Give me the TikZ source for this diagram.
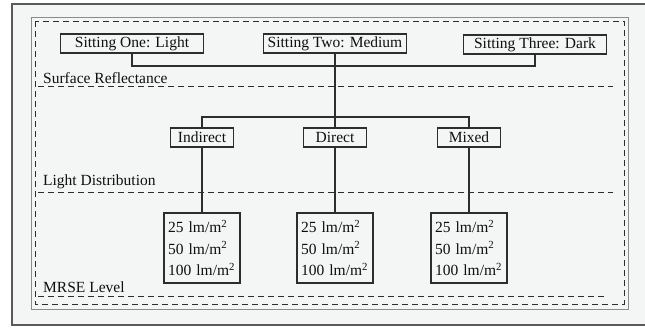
\documentclass[tikz,border=0pt]{standalone}
\usepackage{fontspec}
\setmainfont{Liberation Serif}
\definecolor{bg}{RGB}{244,245,245}
\definecolor{ln}{RGB}{45,45,45}
\definecolor{txt}{RGB}{15,15,15}
\definecolor{fr}{RGB}{90,90,90}
\begin{document}
\begin{tikzpicture}[x=1pt,y=-1pt,
  every node/.style={text=txt, font=\fontsize{15.5}{21.5}\selectfont},
  box/.style={draw=ln, line width=1.1pt, minimum height=19pt, inner sep=0pt},
  topbox/.style={box, minimum width=143pt},
  midbox/.style={box, minimum width=63pt},
  lvlbox/.style={box, minimum height=70pt, text width=68pt, inner xsep=4pt, align=left},
  conn/.style={draw=ln, line width=1.1pt},
  sep/.style={draw=ln, line width=1pt, dash pattern=on 6pt off 4pt},
  lbl/.style={anchor=base west, inner sep=0pt}]
\useasboundingbox (0,0) rectangle (645,327);
\fill[white] (0,0) rectangle (645,327);
\fill[bg] (12,4) rectangle (660,325);
\draw[fr, line width=1.2pt] (660,4) -- (12,4) -- (12,325) -- (660,325);
% inner frame
\draw[fr!70, line width=0.9pt] (31,17) rectangle (628,309);
\draw[sep] (35,21) rectangle (624,304);
% top level
\node[topbox] (s1) at (132,43.5) {Sitting One: Light};
\node[topbox] (s2) at (335,43.5) {Sitting Two: Medium};
\node[topbox] (s3) at (535,44.5) {Sitting Three: Dark};
% middle level
\node[midbox] (m1) at (202,137.5) {Indirect};
\node[midbox] (m2) at (335,137.5) {Direct};
\node[midbox] (m3) at (469,137.5) {Mixed};
% bottom level
\node[lvlbox] (b1) at (202,248) {25 lm/m\textsuperscript{2}\\50 lm/m\textsuperscript{2}\\100 lm/m\textsuperscript{2}};
\node[lvlbox] (b2) at (335,248) {25 lm/m\textsuperscript{2}\\50 lm/m\textsuperscript{2}\\100 lm/m\textsuperscript{2}};
\node[lvlbox] (b3) at (469,248) {25 lm/m\textsuperscript{2}\\50 lm/m\textsuperscript{2}\\100 lm/m\textsuperscript{2}};
% connectors
\coordinate (j1) at (335,66);
\coordinate (j2) at (335,117);
\draw[conn] (s1.south) |- (j1) -| (s3.south);
\draw[conn] (s2.south) -- (m2.north);
\draw[conn] (m1.north) |- (j2) -| (m3.north);
\draw[conn] (m1.south) -- (b1.north);
\draw[conn] (m2.south) -- (b2.north);
\draw[conn] (m3.south) -- (b3.north);
% level labels and separators
\node[lbl] (l1) at (43,83) {Surface Reflectance};
\node[lbl] (l2) at (43,185) {Light Distribution};
\node[lbl] (l3) at (43,292) {MRSE Level};
\draw[sep] (38,86) -- (613,86);
\draw[sep] (38,192) -- (613,192);
\draw[sep] (38,296.5) -- (605,296.5);
\end{tikzpicture}
\end{document}
